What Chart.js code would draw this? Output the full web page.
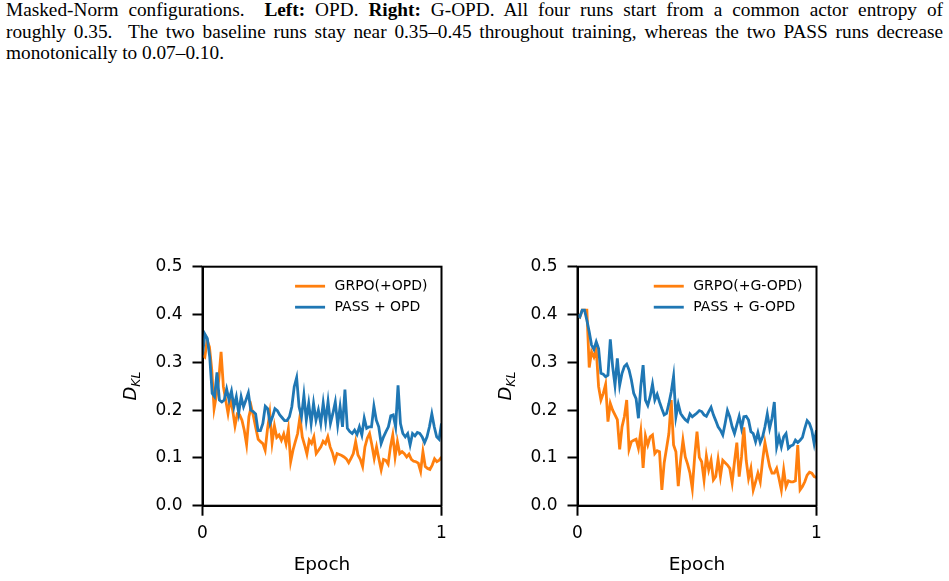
<!DOCTYPE html>
<html>
<head>
<meta charset="utf-8">
<script src="https://cdn.jsdelivr.net/npm/chart.js@4.4.1/dist/chart.umd.min.js"></script>
<style>
  body { margin: 0; width: 949px; height: 581px; background: #fff; position: relative; overflow: hidden; }
  #caption { position: absolute; left: 6px; top: -1px; width: 937px; font-family: "Liberation Serif", serif; font-size: 19.3px; line-height: 21.5px; color: #000; }
  #caption .j { text-align: justify; text-align-last: justify; white-space: nowrap; }
  .plot { position: absolute; top: 240px; }
</style>
</head>
<body>
<div id="caption">
  <div class="j">Masked-Norm configurations. &nbsp;<b>Left:</b> OPD. <b>Right:</b> G-OPD. All four runs start from a common actor entropy of</div>
  <div class="j">roughly 0.35. &nbsp;The two baseline runs stay near 0.35–0.45 throughout training, whereas the two PASS runs decrease</div>
  <div>monotonically to 0.07–0.10.</div>
</div>
<canvas id="leftChart" class="plot" width="470" height="341" style="left:0px"></canvas>
<canvas id="rightChart" class="plot" width="470" height="341" style="left:375px"></canvas>
<script>
// tick labels
var xTicks = [0, 1];
var yTicks = [0.0, 0.1, 0.2, 0.3, 0.4, 0.5];

// Left panel: OPD
var leftPass = [0.315,0.359,0.350,0.311,0.235,0.228,0.279,0.221,0.217,0.221,
  0.244,0.221,0.240,0.207,0.228,0.194,0.228,0.207,0.221,0.236,
  0.200,0.197,0.192,0.157,0.157,0.172,0.208,0.203,0.172,0.186,
  0.203,0.199,0.190,0.184,0.178,0.178,0.186,0.207,0.249,0.268,
  0.207,0.186,0.231,0.179,0.214,0.172,0.214,0.179,0.200,0.172,
  0.215,0.176,0.218,0.172,0.193,0.217,0.169,0.207,0.165,0.243,
  0.162,0.155,0.151,0.158,0.149,0.165,0.148,0.183,0.162,0.165,
  0.165,0.208,0.179,0.165,0.130,0.144,0.155,0.165,0.188,0.190,
  0.165,0.252,0.172,0.151,0.144,0.151,0.127,0.151,0.146,0.153,
  0.151,0.144,0.132,0.144,0.165,0.192,0.165,0.144,0.139,0.172];
var leftGrpo = [0.315,0.311,0.346,0.332,0.284,0.203,0.231,0.263,0.322,0.249,
  0.221,0.193,0.224,0.200,0.167,0.192,0.190,0.179,0.158,0.128,
  0.186,0.207,0.186,0.162,0.139,0.134,0.130,0.116,0.160,0.193,
  0.132,0.167,0.143,0.148,0.137,0.150,0.130,0.160,0.092,0.116,
  0.134,0.151,0.186,0.144,0.127,0.108,0.137,0.130,0.144,0.109,
  0.116,0.123,0.135,0.130,0.144,0.123,0.111,0.093,0.109,0.107,
  0.105,0.102,0.098,0.090,0.099,0.109,0.134,0.106,0.097,0.082,
  0.123,0.141,0.151,0.127,0.099,0.123,0.098,0.075,0.097,0.095,
  0.087,0.123,0.148,0.102,0.134,0.109,0.113,0.109,0.102,0.108,
  0.097,0.093,0.092,0.089,0.072,0.113,0.082,0.078,0.076,0.085,
  0.098,0.092,0.095,0.102];

// Right panel: G-OPD
var rightPass = [0.399,0.395,0.409,0.409,0.388,0.364,0.336,0.327,0.343,0.329,
  0.277,0.275,0.270,0.273,0.348,0.291,0.252,0.308,0.252,0.277,
  0.291,0.296,0.284,0.263,0.235,0.224,0.183,0.249,0.294,0.221,
  0.210,0.228,0.254,0.221,0.233,0.217,0.203,0.190,0.193,0.214,
  0.238,0.271,0.186,0.213,0.193,0.186,0.180,0.176,0.192,0.186,
  0.190,0.194,0.199,0.197,0.190,0.187,0.197,0.206,0.190,0.178,
  0.165,0.158,0.148,0.172,0.199,0.186,0.165,0.151,0.169,0.187,
  0.162,0.186,0.187,0.179,0.155,0.151,0.134,0.153,0.132,0.144,
  0.165,0.192,0.162,0.183,0.217,0.123,0.144,0.123,0.144,0.151,
  0.120,0.125,0.127,0.137,0.132,0.137,0.143,0.162,0.178,0.172,
  0.158,0.130,0.158];
var rightGrpo = [0.399,0.395,0.409,0.409,0.409,0.289,0.322,0.311,0.327,0.249,
  0.221,0.235,0.254,0.176,0.214,0.200,0.190,0.180,0.118,0.165,
  0.186,0.221,0.118,0.134,0.137,0.139,0.120,0.155,0.079,0.146,
  0.127,0.144,0.148,0.109,0.115,0.113,0.033,0.090,0.120,0.151,
  0.221,0.127,0.113,0.041,0.095,0.137,0.102,0.087,0.068,0.036,
  0.102,0.155,0.101,0.092,0.054,0.104,0.075,0.095,0.054,0.061,
  0.097,0.061,0.095,0.090,0.085,0.078,0.048,0.092,0.132,0.061,
  0.102,0.164,0.095,0.057,0.078,0.033,0.050,0.068,0.050,0.095,
  0.132,0.106,0.082,0.068,0.068,0.078,0.057,0.033,0.075,0.040,
  0.052,0.050,0.050,0.052,0.127,0.033,0.040,0.050,0.064,0.070,
  0.068,0.061,0.059];

var blue = '#1f77b4';
var orange = '#ff7f0e';
var tickFont = { family: 'DejaVu Sans', size: 17 };

function toPoints(vals) {
  return vals.map(function (v, i) { return { x: i / (vals.length - 1), y: v }; });
}

// top/right spines, legend and D_KL label
var extras = {
  id: 'extras',
  afterDraw: function (chart) {
    var ctx = chart.ctx, a = chart.chartArea;
    ctx.save();
    ctx.strokeStyle = '#000';
    ctx.lineWidth = 2;
    ctx.strokeRect(a.left, a.top, a.right - a.left, a.bottom - a.top);

    // legend, drawn in legend order (GRPO first)
    ctx.font = '14px "DejaVu Sans"';
    ctx.textBaseline = 'middle';
    var items = chart.data.datasets.slice().reverse();
    var w = 0;
    items.forEach(function (d) { w = Math.max(w, ctx.measureText(d.label).width); });
    var tx = a.right - 14 - w;
    items.forEach(function (d, i) {
      var y = a.top + 19.5 + i * 21;
      ctx.strokeStyle = d.borderColor;
      ctx.lineWidth = 2.8;
      ctx.beginPath();
      ctx.moveTo(tx - 39.5, y);
      ctx.lineTo(tx - 9.5, y);
      ctx.stroke();
      ctx.fillStyle = '#000';
      ctx.textAlign = 'left';
      ctx.fillText(d.label, tx, y + 0.5);
    });

    // y label
    ctx.translate(130, 146);
    ctx.rotate(-Math.PI / 2);
    ctx.fillStyle = '#000';
    ctx.textBaseline = 'alphabetic';
    ctx.textAlign = 'left';
    ctx.font = 'italic 18px "DejaVu Sans"';
    var wD = ctx.measureText('D').width;
    ctx.font = 'italic 12.5px "DejaVu Sans"';
    var wK = ctx.measureText('KL').width;
    var x0 = -(wD + wK) / 2;
    ctx.font = 'italic 18px "DejaVu Sans"';
    ctx.fillText('D', x0, 6);
    ctx.font = 'italic 12.5px "DejaVu Sans"';
    ctx.fillText('KL', x0 + wD, 10);
    ctx.restore();
  }
};

function makeChart(id, passVals, grpoVals, passLabel, grpoLabel) {
  var c = document.getElementById(id).getContext('2d');
  return new Chart(c, {
    type: 'line',
    data: {
      datasets: [{
        label: passLabel,
        data: toPoints(passVals),
        borderColor: blue,
        borderWidth: 2.8,
        pointRadius: 0,
        fill: false,
        tension: 0
      }, {
        label: grpoLabel,
        data: toPoints(grpoVals),
        borderColor: orange,
        borderWidth: 2.8,
        pointRadius: 0,
        fill: false,
        tension: 0
      }]
    },
    options: {
      responsive: false,
      animation: false,
      layout: { padding: { left: 0, top: 26.7, right: 28.5, bottom: 0 } },
      plugins: { legend: { display: false }, tooltip: { enabled: false } },
      scales: {
        x: {
          type: 'linear',
          min: xTicks[0],
          max: xTicks[xTicks.length - 1],
          afterBuildTicks: function (s) { s.ticks = xTicks.map(function (v) { return { value: v }; }); },
          ticks: { font: tickFont, color: '#000', padding: 8, maxRotation: 0, autoSkip: false,
            callback: function (v) { return String(v); } },
          grid: { drawOnChartArea: false, drawTicks: true, tickLength: 10, tickWidth: 2, tickColor: '#000' },
          border: { display: true, color: '#000', width: 2 },
          title: { display: true, text: 'Epoch', color: '#000',
            font: { family: 'DejaVu Sans', size: 18.5 }, padding: { top: 0, bottom: 5 } },
          afterFit: function (s) { s.height = 75.3; }
        },
        y: {
          min: 0,
          max: 0.5,
          afterBuildTicks: function (s) { s.ticks = yTicks.map(function (v) { return { value: v }; }); },
          ticks: { font: tickFont, color: '#000', padding: 10, autoSkip: false,
            callback: function (v) { return v.toFixed(1); } },
          grid: { drawOnChartArea: false, drawTicks: true, tickLength: 10, tickWidth: 2, tickColor: '#000' },
          border: { display: true, color: '#000', width: 2 },
          afterFit: function (s) { s.width = 202.5; }
        }
      }
    },
    plugins: [extras]
  });
}

makeChart('leftChart', leftPass, leftGrpo, 'PASS + OPD', 'GRPO(+OPD)');
makeChart('rightChart', rightPass, rightGrpo, 'PASS + G-OPD', 'GRPO(+G-OPD)');
</script>
</body>
</html>
